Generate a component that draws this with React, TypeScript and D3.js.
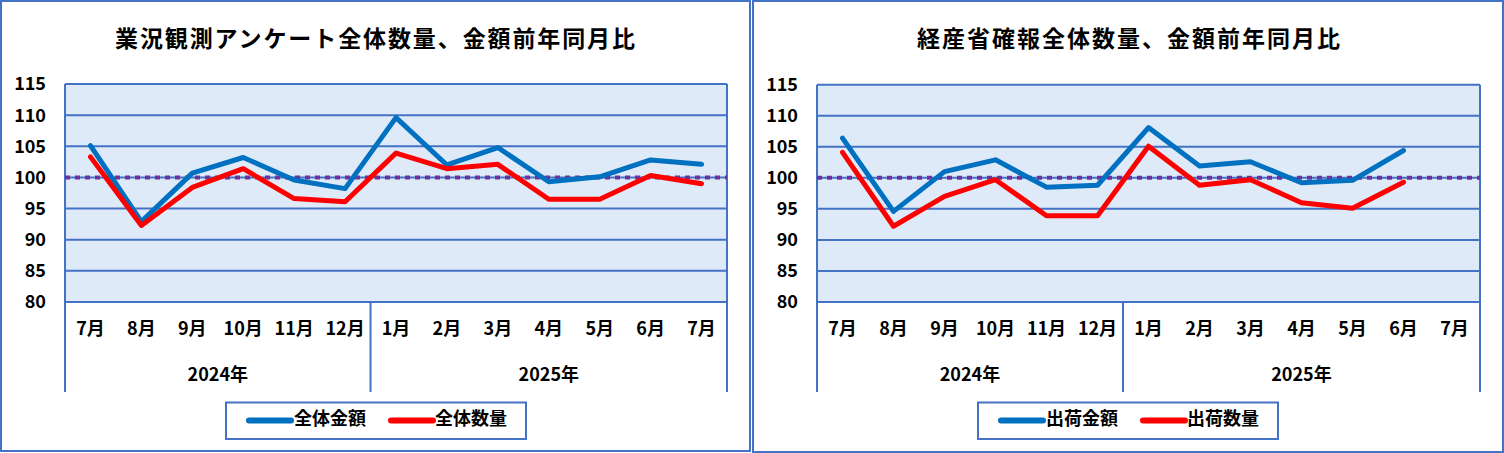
import React from "react";
import * as d3 from "d3";

const months = ["7月", "8月", "9月", "10月", "11月", "12月", "1月", "2月", "3月", "4月", "5月", "6月", "7月"];
const yearGroups = [
  { label: "2024年", span: 6 },
  { label: "2025年", span: 7 },
];
const yTicks = [80, 85, 90, 95, 100, 105, 110, 115];

const surveyAmount = [105.1, 92.9, 100.7, 103.2, 99.6, 98.2, 109.6, 102.0, 104.8, 99.3, 100.1, 102.8, 102.1];
const surveyQuantity = [103.3, 92.3, 98.4, 101.4, 96.6, 96.1, 103.9, 101.4, 102.1, 96.5, 96.5, 100.3, 99.0];
const metiAmount: (number | null)[] = [106.4, 94.6, 101.0, 102.9, 98.5, 98.8, 108.1, 101.9, 102.6, 99.2, 99.6, 104.4, null];
const metiQuantity: (number | null)[] = [104.1, 92.2, 97.0, 99.7, 93.9, 93.9, 105.1, 98.8, 99.7, 96.0, 95.1, 99.3, null];

const BLUE = "#0070C0";
const RED = "#FF0000";
const GRID = "#4472C4";
const PLOT_BG = "#DEEAF7";
const REF = "#7030A0";
const FONT = "'Noto Sans CJK JP', 'Noto Sans', sans-serif";

type PanelProps = {
  bx: number; by: number; bw: number; bh: number;
  pl: number; pr: number; pt: number; pb: number;
  title: string; titleX: number; titleLen: number;
  amount: (number | null)[]; quantity: (number | null)[];
  amountLabel: string; quantityLabel: string;
  legendX: number;
};

function Panel(p: PanelProps) {
  const x = d3.scaleBand<number>().domain(d3.range(months.length)).range([p.pl, p.pr]);
  const y = d3.scaleLinear().domain([80, 115]).range([p.pb, p.pt]);
  const catBottom = 392;
  const line = d3
    .line<number | null>()
    .defined((d) => d != null)
    .x((_, i) => (x(i) as number) + x.bandwidth() / 2)
    .y((d) => y(d as number));

  let acc = 0;
  const groups = yearGroups.map((g) => {
    const start = acc;
    acc += g.span;
    return { ...g, start, end: acc };
  });

  return (
    <g fontFamily={FONT} fontWeight="bold" fill="#000">
      <rect x={p.bx} y={p.by} width={p.bw} height={p.bh} fill="#fff" stroke={GRID} strokeWidth={2} />
      <text x={p.titleX} y={46.5} fontSize={23} textLength={p.titleLen} lengthAdjust="spacing">
        {p.title}
      </text>
      <rect x={p.pl} y={p.pt} width={p.pr - p.pl} height={p.pb - p.pt} fill={PLOT_BG} />
      {yTicks.map((t) => (
        <g key={t}>
          <line x1={p.pl} x2={p.pr} y1={y(t)} y2={y(t)} stroke={GRID} strokeWidth={2} />
          <text x={p.pl - 19} y={y(t) + 6.4} fontSize={18} textAnchor="end">
            {t}
          </text>
        </g>
      ))}
      <line x1={p.pl} x2={p.pl} y1={p.pt} y2={catBottom} stroke={GRID} strokeWidth={2} />
      <line x1={p.pr} x2={p.pr} y1={p.pt} y2={catBottom} stroke={GRID} strokeWidth={2} />
      {groups.slice(1).map((g) => (
        <line key={g.label} x1={x(g.start) as number} x2={x(g.start) as number} y1={p.pb} y2={catBottom} stroke={GRID} strokeWidth={2} />
      ))}
      {months.map((m, i) => (
        <text key={i} x={(x(i) as number) + x.bandwidth() / 2} y={335} fontSize={18} textAnchor="middle">
          {m}
        </text>
      ))}
      {groups.map((g) => {
        const x0 = x(g.start) as number;
        const x1 = g.end >= months.length ? p.pr : (x(g.end) as number);
        return (
          <text key={g.label} x={(x0 + x1) / 2} y={381} fontSize={18} textAnchor="middle">
            {g.label}
          </text>
        );
      })}
      <line x1={p.pl} x2={p.pr} y1={y(100)} y2={y(100)} stroke={REF} strokeWidth={4} strokeDasharray="5 5" />
      <path d={line(p.amount) || ""} fill="none" stroke={BLUE} strokeWidth={5} strokeLinecap="round" strokeLinejoin="round" />
      <path d={line(p.quantity) || ""} fill="none" stroke={RED} strokeWidth={5} strokeLinecap="round" strokeLinejoin="round" />
      <rect x={p.legendX} y={402.5} width={300} height={36.5} fill="#fff" stroke={GRID} strokeWidth={2} />
      <line x1={p.legendX + 23} x2={p.legendX + 65} y1={420.5} y2={420.5} stroke={BLUE} strokeWidth={6} strokeLinecap="round" />
      <text x={p.legendX + 68} y={424.5} fontSize={18}>{p.amountLabel}</text>
      <line x1={p.legendX + 165} x2={p.legendX + 207} y1={420.5} y2={420.5} stroke={RED} strokeWidth={6} strokeLinecap="round" />
      <text x={p.legendX + 209} y={424.5} fontSize={18}>{p.quantityLabel}</text>
    </g>
  );
}

export default function App() {
  return (
    <svg width={1504} height={453} style={{ position: "absolute", left: 0, top: 0, display: "block" }}>
      <rect x={0} y={0} width={1504} height={453} fill="#fff" />
      <Panel
        bx={1} by={1} bw={749} bh={450}
        pl={65} pr={727} pt={84} pb={302}
        title="業況観測アンケート全体数量、金額前年同月比" titleX={115} titleLen={520}
        amount={surveyAmount} quantity={surveyQuantity}
        amountLabel="全体金額" quantityLabel="全体数量"
        legendX={226}
      />
      <Panel
        bx={753} by={1} bw={750} bh={451}
        pl={817} pr={1480} pt={84.7} pb={302}
        title="経産省確報全体数量、金額前年同月比" titleX={917} titleLen={423}
        amount={metiAmount} quantity={metiQuantity}
        amountLabel="出荷金額" quantityLabel="出荷数量"
        legendX={978}
      />
    </svg>
  );
}
